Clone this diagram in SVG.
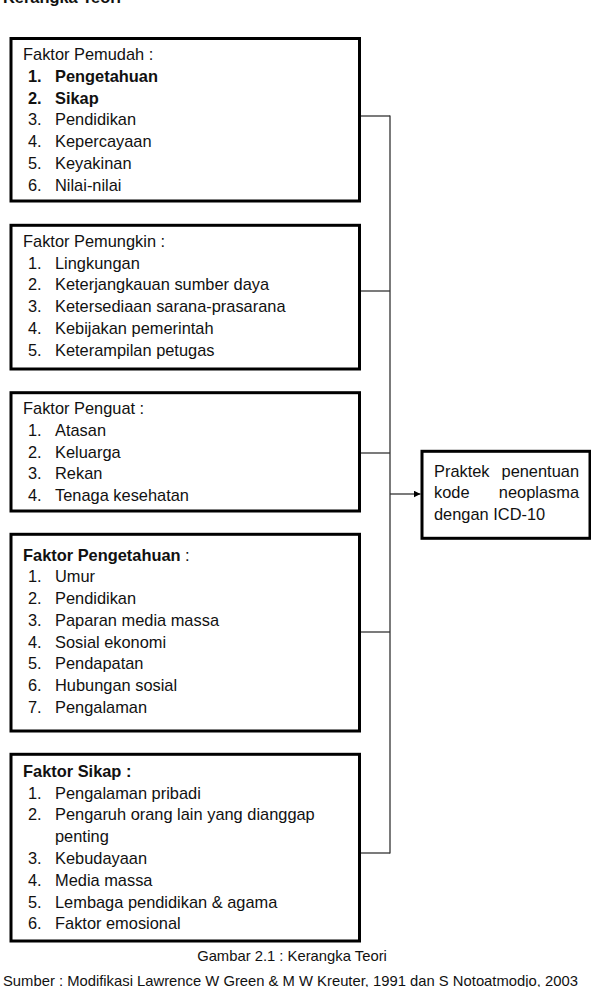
<svg xmlns="http://www.w3.org/2000/svg" width="591" height="987" viewBox="0 0 591 987">
<defs>
<style>
text{font-family:"Liberation Sans",Arial,sans-serif;font-size:16.4px;fill:#111}
.b{font-weight:bold}
.box{fill:#fff;stroke:#000;stroke-width:3}
.con{fill:none;stroke:#333;stroke-width:1.3}
.cap{font-size:14.8px}
</style>
<marker id="arr" viewBox="0 0 10 10" refX="10" refY="5" markerWidth="7" markerHeight="7" markerUnits="userSpaceOnUse" orient="auto">
<path d="M0,0 L10,5 L0,10 z" fill="#000"/>
</marker>
</defs>
<rect width="591" height="987" fill="#fff"/>
<text class="b" x="3" y="3">Kerangka Teori</text>

<g id="connectors">
<line class="con" x1="361" y1="116" x2="390" y2="116"/>
<line class="con" x1="361" y1="291" x2="390" y2="291"/>
<line class="con" x1="361" y1="453" x2="390" y2="453"/>
<line class="con" x1="361" y1="632" x2="390" y2="632"/>
<line class="con" x1="361" y1="853" x2="390" y2="853"/>
<line class="con" x1="390" y1="115.4" x2="390" y2="853.6"/>
<line class="con" x1="390" y1="494" x2="420.5" y2="494" marker-end="url(#arr)"/>
</g>

<g id="pemudah">
<rect class="box" x="11" y="38.5" width="348.5" height="162.5"/>
<text x="23" y="60">Faktor Pemudah :</text>
<text class="b" x="28" y="81.8">1.</text><text class="b" x="55" y="81.8">Pengetahuan</text>
<text class="b" x="28" y="103.6">2.</text><text class="b" x="55" y="103.6">Sikap</text>
<text x="28" y="125.4">3.</text><text x="55" y="125.4">Pendidikan</text>
<text x="28" y="147.2">4.</text><text x="55" y="147.2">Kepercayaan</text>
<text x="28" y="169">5.</text><text x="55" y="169">Keyakinan</text>
<text x="28" y="190.8">6.</text><text x="55" y="190.8">Nilai-nilai</text>
</g>

<g id="pemungkin">
<rect class="box" x="11" y="225.3" width="348.5" height="143.7"/>
<text x="23" y="246.7">Faktor Pemungkin :</text>
<text x="28" y="268.5">1.</text><text x="55" y="268.5">Lingkungan</text>
<text x="28" y="290.3">2.</text><text x="55" y="290.3">Keterjangkauan sumber daya</text>
<text x="28" y="312.1">3.</text><text x="55" y="312.1">Ketersediaan sarana-prasarana</text>
<text x="28" y="333.9">4.</text><text x="55" y="333.9">Kebijakan pemerintah</text>
<text x="28" y="355.7">5.</text><text x="55" y="355.7">Keterampilan petugas</text>
</g>

<g id="penguat">
<rect class="box" x="11" y="392.7" width="348.5" height="118.3"/>
<text x="23" y="414">Faktor Penguat :</text>
<text x="28" y="435.8">1.</text><text x="55" y="435.8">Atasan</text>
<text x="28" y="457.5">2.</text><text x="55" y="457.5">Keluarga</text>
<text x="28" y="479.3">3.</text><text x="55" y="479.3">Rekan</text>
<text x="28" y="501">4.</text><text x="55" y="501">Tenaga kesehatan</text>
</g>

<g id="pengetahuan">
<rect class="box" x="11" y="534.3" width="348.5" height="196.7"/>
<text x="23" y="560.7"><tspan class="b">Faktor Pengetahuan</tspan> :</text>
<text x="28" y="582.4">1.</text><text x="55" y="582.4">Umur</text>
<text x="28" y="604.2">2.</text><text x="55" y="604.2">Pendidikan</text>
<text x="28" y="625.9">3.</text><text x="55" y="625.9">Paparan media massa</text>
<text x="28" y="647.7">4.</text><text x="55" y="647.7">Sosial ekonomi</text>
<text x="28" y="669.4">5.</text><text x="55" y="669.4">Pendapatan</text>
<text x="28" y="691.2">6.</text><text x="55" y="691.2">Hubungan sosial</text>
<text x="28" y="712.9">7.</text><text x="55" y="712.9">Pengalaman</text>
</g>

<g id="sikap">
<rect class="box" x="11" y="754.3" width="348.5" height="186.7"/>
<text class="b" x="23" y="776.7">Faktor Sikap :</text>
<text x="28" y="798.5">1.</text><text x="55" y="798.5">Pengalaman pribadi</text>
<text x="28" y="820.3">2.</text><text x="55" y="820.3">Pengaruh orang lain yang dianggap</text>
<text x="55" y="842.1">penting</text>
<text x="28" y="863.9">3.</text><text x="55" y="863.9">Kebudayaan</text>
<text x="28" y="885.7">4.</text><text x="55" y="885.7">Media massa</text>
<text x="28" y="907.5">5.</text><text x="55" y="907.5">Lembaga pendidikan &amp; agama</text>
<text x="28" y="929.3">6.</text><text x="55" y="929.3">Faktor emosional</text>
</g>

<g id="praktek">
<rect class="box" x="422" y="451.3" width="168" height="87"/>
<text x="434" y="476.7">Praktek</text><text x="579" y="476.7" text-anchor="end">penentuan</text>
<text x="434" y="498.4">kode</text><text x="579" y="498.4" text-anchor="end">neoplasma</text>
<text x="434" y="520.1">dengan ICD-10</text>
</g>

<text class="cap" x="292" y="961" text-anchor="middle">Gambar 2.1 : Kerangka Teori</text>
<text class="cap" x="3" y="986">Sumber : Modifikasi Lawrence W Green &amp; M W Kreuter, 1991 dan S Notoatmodjo, 2003</text>
</svg>
